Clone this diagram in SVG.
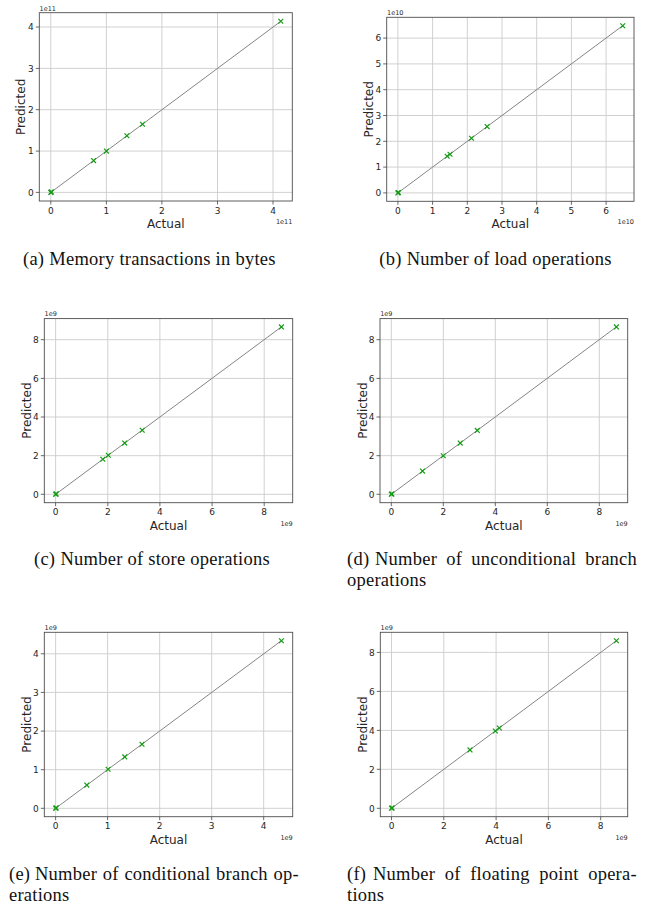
<svg xmlns="http://www.w3.org/2000/svg" xmlns:xlink="http://www.w3.org/1999/xlink" width="647" height="907" viewBox="0 0 647 907">
  <style>
    .bg{fill:#ffffff}
    .frame{fill:none;stroke:#4d4d4d;stroke-width:0.9}
    .grid{fill:none;stroke:#cccccc;stroke-width:0.9}
    .tick{fill:none;stroke:#444444;stroke-width:0.8}
    .diag{stroke:#858585;stroke-width:1}
    .mk{fill:none;stroke:#139a13;stroke-width:1.2}
    .tl{font-family:"DejaVu Sans",sans-serif;font-size:9px;fill:#262626}
    .tx{text-anchor:middle}
    .ty{text-anchor:end}
    .lab{font-family:"DejaVu Sans",sans-serif;font-size:12px;fill:#262626;text-anchor:middle}
    .off{font-family:"DejaVu Sans",sans-serif;font-size:6.5px;fill:#262626}
    .offr{text-anchor:end}
    .cap{font-family:"Liberation Serif","Times New Roman",serif;font-size:18.5px;letter-spacing:0.25px;fill:#111111}
  </style>
  <defs>
    <path id="x" class="mk" d="M-2.4-2.4L2.4 2.4M-2.4 2.4L2.4-2.4"/>
  </defs>
  <rect class="bg" x="0" y="0" width="647" height="907"/>

  <!-- (a) memory transactions, scale 1e11 -->
  <g id="plot-a">
    <path class="grid" d="M50.8 12.7V201M106.4 12.7V201M161.9 12.7V201M217.5 12.7V201M273 12.7V201M39.3 192.4H292.3M39.3 151.1H292.3M39.3 109.7H292.3M39.3 68.4H292.3M39.3 27H292.3"/>
    <line class="diag" x1="50.8" y1="192.4" x2="280.8" y2="21.3"/>
    <use xlink:href="#x" x="50.8" y="192.4"/><use xlink:href="#x" x="51.4" y="191.9"/>
    <use xlink:href="#x" x="93.6" y="160.6"/><use xlink:href="#x" x="106.4" y="151.1"/>
    <use xlink:href="#x" x="126.9" y="135.8"/><use xlink:href="#x" x="142.5" y="124.2"/>
    <use xlink:href="#x" x="280.8" y="21.3"/>
    <rect class="frame" x="39.3" y="12.7" width="253" height="188.3"/>
    <path class="tick" d="M50.8 201v3.5M106.4 201v3.5M161.9 201v3.5M217.5 201v3.5M273 201v3.5M39.3 192.4h-3.5M39.3 151.1h-3.5M39.3 109.7h-3.5M39.3 68.4h-3.5M39.3 27h-3.5"/>
    <g class="tl tx"><text x="50.8" y="213.5">0</text><text x="106.4" y="213.5">1</text><text x="161.9" y="213.5">2</text><text x="217.5" y="213.5">3</text><text x="273" y="213.5">4</text></g>
    <g class="tl ty"><text x="33.8" y="195.6">0</text><text x="33.8" y="154.3">1</text><text x="33.8" y="112.9">2</text><text x="33.8" y="71.6">3</text><text x="33.8" y="30.2">4</text></g>
    <text class="off" x="39.5" y="10.5">1e11</text>
    <text class="off offr" x="292.3" y="224">1e11</text>
    <text class="lab" x="165.8" y="228">Actual</text>
    <text class="lab" transform="translate(25.3 106.9) rotate(-90)">Predicted</text>
    <text class="cap" x="23" y="265">(a)</text>
    <text class="cap" x="49.3" y="265">Memory transactions in bytes</text>
  </g>

  <!-- (b) load operations, scale 1e10 -->
  <g id="plot-b">
    <path class="grid" d="M397.9 17.3V201.3M432.6 17.3V201.3M467.3 17.3V201.3M502 17.3V201.3M536.7 17.3V201.3M571.4 17.3V201.3M606.1 17.3V201.3M386.7 192.9H634M386.7 167.1H634M386.7 141.3H634M386.7 115.5H634M386.7 89.7H634M386.7 63.9H634M386.7 38.1H634"/>
    <line class="diag" x1="397.9" y1="192.9" x2="622.7" y2="25.7"/>
    <use xlink:href="#x" x="397.9" y="192.9"/><use xlink:href="#x" x="398.5" y="192.5"/>
    <use xlink:href="#x" x="447.2" y="156.3"/><use xlink:href="#x" x="450" y="154.2"/>
    <use xlink:href="#x" x="471.5" y="138.2"/><use xlink:href="#x" x="487.1" y="126.6"/>
    <use xlink:href="#x" x="622.7" y="25.7"/>
    <rect class="frame" x="386.7" y="17.3" width="247.3" height="184"/>
    <path class="tick" d="M397.9 201.3v3.5M432.6 201.3v3.5M467.3 201.3v3.5M502 201.3v3.5M536.7 201.3v3.5M571.4 201.3v3.5M606.1 201.3v3.5M386.7 192.9h-3.5M386.7 167.1h-3.5M386.7 141.3h-3.5M386.7 115.5h-3.5M386.7 89.7h-3.5M386.7 63.9h-3.5M386.7 38.1h-3.5"/>
    <g class="tl tx"><text x="397.9" y="213.8">0</text><text x="432.6" y="213.8">1</text><text x="467.3" y="213.8">2</text><text x="502" y="213.8">3</text><text x="536.7" y="213.8">4</text><text x="571.4" y="213.8">5</text><text x="606.1" y="213.8">6</text></g>
    <g class="tl ty"><text x="381.2" y="196.1">0</text><text x="381.2" y="170.3">1</text><text x="381.2" y="144.5">2</text><text x="381.2" y="118.7">3</text><text x="381.2" y="92.9">4</text><text x="381.2" y="67.1">5</text><text x="381.2" y="41.3">6</text></g>
    <text class="off" x="387" y="15.1">1e10</text>
    <text class="off offr" x="634" y="224.3">1e10</text>
    <text class="lab" x="510.3" y="228.3">Actual</text>
    <text class="lab" transform="translate(372.7 109.3) rotate(-90)">Predicted</text>
    <text class="cap" x="379.3" y="265">(b)</text>
    <text class="cap" x="406.7" y="265">Number of load operations</text>
  </g>

  <!-- (c) store operations, scale 1e9 -->
  <g id="plot-c">
    <path class="grid" d="M55.6 318.6V502.7M107.8 318.6V502.7M159.9 318.6V502.7M212.1 318.6V502.7M264.2 318.6V502.7M44.3 494.3H292.7M44.3 455.7H292.7M44.3 417H292.7M44.3 378.4H292.7M44.3 339.7H292.7"/>
    <line class="diag" x1="55.6" y1="494.3" x2="281.4" y2="326.9"/>
    <use xlink:href="#x" x="55.6" y="494.3"/><use xlink:href="#x" x="56.2" y="493.9"/>
    <use xlink:href="#x" x="102.8" y="459.3"/><use xlink:href="#x" x="108.3" y="455.3"/>
    <use xlink:href="#x" x="124.7" y="443.1"/><use xlink:href="#x" x="142.2" y="430.2"/>
    <use xlink:href="#x" x="281.4" y="326.9"/>
    <rect class="frame" x="44.3" y="318.6" width="248.4" height="184.1"/>
    <path class="tick" d="M55.6 502.7v3.5M107.8 502.7v3.5M159.9 502.7v3.5M212.1 502.7v3.5M264.2 502.7v3.5M44.3 494.3h-3.5M44.3 455.7h-3.5M44.3 417h-3.5M44.3 378.4h-3.5M44.3 339.7h-3.5"/>
    <g class="tl tx"><text x="55.6" y="515.2">0</text><text x="107.8" y="515.2">2</text><text x="159.9" y="515.2">4</text><text x="212.1" y="515.2">6</text><text x="264.2" y="515.2">8</text></g>
    <g class="tl ty"><text x="38.8" y="497.5">0</text><text x="38.8" y="458.9">2</text><text x="38.8" y="420.2">4</text><text x="38.8" y="381.6">6</text><text x="38.8" y="342.9">8</text></g>
    <text class="off" x="44.5" y="316.4">1e9</text>
    <text class="off offr" x="292.7" y="525.7">1e9</text>
    <text class="lab" x="168.5" y="529.7">Actual</text>
    <text class="lab" transform="translate(31.3 410.6) rotate(-90)">Predicted</text>
    <text class="cap" x="34" y="565">(c)</text>
    <text class="cap" x="60.5" y="565">Number of store operations</text>
  </g>

  <!-- (d) unconditional branch operations, scale 1e9 -->
  <g id="plot-d">
    <path class="grid" d="M391.3 318.6V502.7M443.3 318.6V502.7M495.3 318.6V502.7M547.3 318.6V502.7M599.3 318.6V502.7M380 494.3H627.7M380 455.7H627.7M380 417H627.7M380 378.4H627.7M380 339.7H627.7"/>
    <line class="diag" x1="391.3" y1="494.3" x2="616.4" y2="326.9"/>
    <use xlink:href="#x" x="391.3" y="494.3"/><use xlink:href="#x" x="391.9" y="493.9"/>
    <use xlink:href="#x" x="422.5" y="471.1"/><use xlink:href="#x" x="443.3" y="455.7"/>
    <use xlink:href="#x" x="460.2" y="443.1"/><use xlink:href="#x" x="477.3" y="430.4"/>
    <use xlink:href="#x" x="616.4" y="326.9"/>
    <rect class="frame" x="380" y="318.6" width="247.7" height="184.1"/>
    <path class="tick" d="M391.3 502.7v3.5M443.3 502.7v3.5M495.3 502.7v3.5M547.3 502.7v3.5M599.3 502.7v3.5M380 494.3h-3.5M380 455.7h-3.5M380 417h-3.5M380 378.4h-3.5M380 339.7h-3.5"/>
    <g class="tl tx"><text x="391.3" y="515.2">0</text><text x="443.3" y="515.2">2</text><text x="495.3" y="515.2">4</text><text x="547.3" y="515.2">6</text><text x="599.3" y="515.2">8</text></g>
    <g class="tl ty"><text x="374.5" y="497.5">0</text><text x="374.5" y="458.9">2</text><text x="374.5" y="420.2">4</text><text x="374.5" y="381.6">6</text><text x="374.5" y="342.9">8</text></g>
    <text class="off" x="380.2" y="316.4">1e9</text>
    <text class="off offr" x="627.7" y="525.7">1e9</text>
    <text class="lab" x="503.9" y="529.7">Actual</text>
    <text class="lab" transform="translate(366.5 410.6) rotate(-90)">Predicted</text>
    <text class="cap" x="347" y="565">(d)</text>
    <text class="cap" x="375" y="565" word-spacing="4.2">Number of unconditional branch</text>
    <text class="cap" x="347" y="586">operations</text>
  </g>

  <!-- (e) conditional branch operations, scale 1e9 -->
  <g id="plot-e">
    <path class="grid" d="M55.6 632.3V816.7M107.6 632.3V816.7M159.7 632.3V816.7M211.7 632.3V816.7M263.7 632.3V816.7M44.3 808.3H292.7M44.3 769.7H292.7M44.3 731.1H292.7M44.3 692.4H292.7M44.3 653.8H292.7"/>
    <line class="diag" x1="55.6" y1="808.3" x2="281.4" y2="640.7"/>
    <use xlink:href="#x" x="55.6" y="808.3"/><use xlink:href="#x" x="56.2" y="807.9"/>
    <use xlink:href="#x" x="86.8" y="785.1"/><use xlink:href="#x" x="108.1" y="769.3"/>
    <use xlink:href="#x" x="124.8" y="756.9"/><use xlink:href="#x" x="142" y="744.2"/>
    <use xlink:href="#x" x="281.4" y="640.7"/>
    <rect class="frame" x="44.3" y="632.3" width="248.4" height="184.4"/>
    <path class="tick" d="M55.6 816.7v3.5M107.6 816.7v3.5M159.7 816.7v3.5M211.7 816.7v3.5M263.7 816.7v3.5M44.3 808.3h-3.5M44.3 769.7h-3.5M44.3 731.1h-3.5M44.3 692.4h-3.5M44.3 653.8h-3.5"/>
    <g class="tl tx"><text x="55.6" y="829.2">0</text><text x="107.6" y="829.2">1</text><text x="159.7" y="829.2">2</text><text x="211.7" y="829.2">3</text><text x="263.7" y="829.2">4</text></g>
    <g class="tl ty"><text x="38.8" y="811.5">0</text><text x="38.8" y="772.9">1</text><text x="38.8" y="734.3">2</text><text x="38.8" y="695.6">3</text><text x="38.8" y="657">4</text></g>
    <text class="off" x="44.5" y="630.3">1e9</text>
    <text class="off offr" x="292.7" y="839.5">1e9</text>
    <text class="lab" x="168.5" y="843.7">Actual</text>
    <text class="lab" transform="translate(30.5 724.5) rotate(-90)">Predicted</text>
    <text class="cap" x="9" y="880">(e)</text>
    <text class="cap" x="35" y="880" word-spacing="0.8">Number of conditional branch op-</text>
    <text class="cap" x="9" y="901">erations</text>
  </g>

  <!-- (f) floating point operations, scale 1e9 -->
  <g id="plot-f">
    <path class="grid" d="M391.5 632.3V816.7M443.8 632.3V816.7M496.1 632.3V816.7M548.4 632.3V816.7M600.7 632.3V816.7M380.3 808.3H627.7M380.3 769.3H627.7M380.3 730.4H627.7M380.3 691.4H627.7M380.3 652.4H627.7"/>
    <line class="diag" x1="391.5" y1="808.3" x2="616.4" y2="640.7"/>
    <use xlink:href="#x" x="391.5" y="808.3"/><use xlink:href="#x" x="392.1" y="807.9"/>
    <use xlink:href="#x" x="470" y="749.9"/><use xlink:href="#x" x="495.4" y="731"/>
    <use xlink:href="#x" x="499.3" y="728"/><use xlink:href="#x" x="616.4" y="640.7"/>
    <rect class="frame" x="380.3" y="632.3" width="247.4" height="184.4"/>
    <path class="tick" d="M391.5 816.7v3.5M443.8 816.7v3.5M496.1 816.7v3.5M548.4 816.7v3.5M600.7 816.7v3.5M380.3 808.3h-3.5M380.3 769.3h-3.5M380.3 730.4h-3.5M380.3 691.4h-3.5M380.3 652.4h-3.5"/>
    <g class="tl tx"><text x="391.5" y="829.2">0</text><text x="443.8" y="829.2">2</text><text x="496.1" y="829.2">4</text><text x="548.4" y="829.2">6</text><text x="600.7" y="829.2">8</text></g>
    <g class="tl ty"><text x="374.8" y="811.5">0</text><text x="374.8" y="772.5">2</text><text x="374.8" y="733.6">4</text><text x="374.8" y="694.6">6</text><text x="374.8" y="655.6">8</text></g>
    <text class="off" x="380.5" y="630.3">1e9</text>
    <text class="off offr" x="627.7" y="839.5">1e9</text>
    <text class="lab" x="504" y="843.7">Actual</text>
    <text class="lab" transform="translate(366.5 724.5) rotate(-90)">Predicted</text>
    <text class="cap" x="347" y="880">(f)</text>
    <text class="cap" x="373" y="880" word-spacing="4.7">Number of floating point opera-</text>
    <text class="cap" x="347" y="901">tions</text>
  </g>
</svg>
